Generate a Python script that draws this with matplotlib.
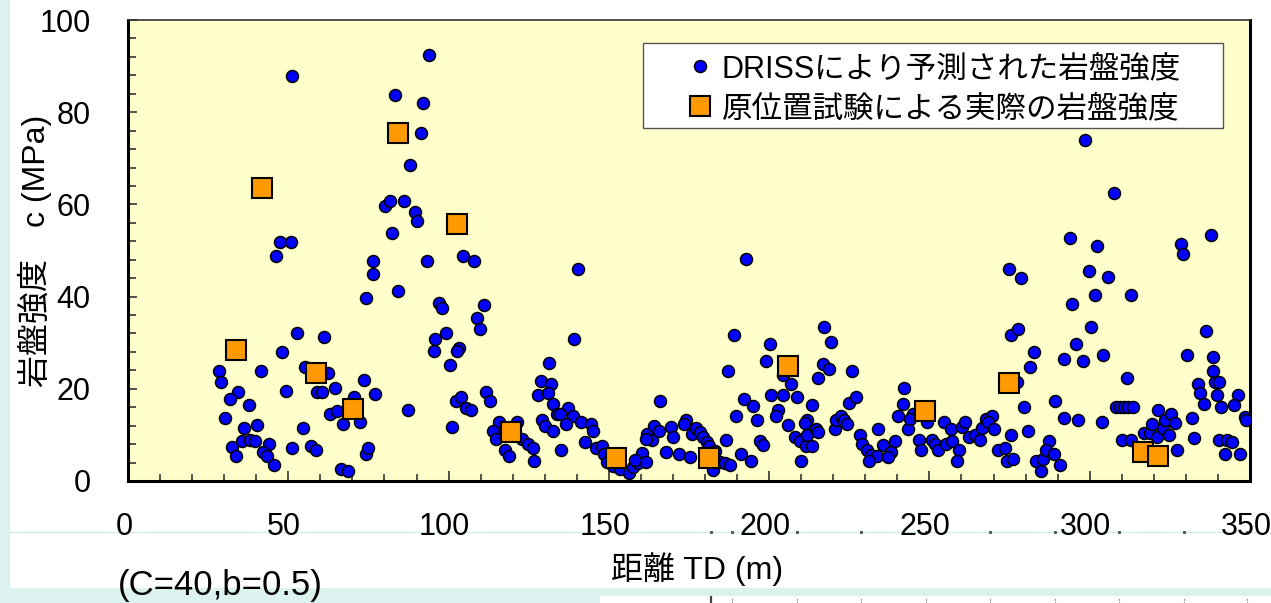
import numpy as np
import matplotlib.pyplot as plt
from matplotlib.patches import Rectangle
from matplotlib.lines import Line2D
from matplotlib.ticker import MultipleLocator
from matplotlib.transforms import ScaledTranslation

plt.rcParams['font.family'] = ['Liberation Sans', 'Noto Sans CJK JP']

# rock strength predicted by DRISS (distance TD [m], c [MPa])
td_pred = [51.3, 47.5, 50.8, 46.1, 52.6, 61.2, 48.0, 28.4, 29.1, 41.6,
           55.1, 62.4, 34.3, 31.7, 37.6, 49.4, 59.1, 60.6, 64.5, 73.6,
           77.0, 70.4, 87.4, 62.9, 65.2, 67.1, 72.4, 30.4, 36.3, 40.2,
           54.6, 32.3, 33.7, 35.6, 38.2, 39.6, 44.1, 42.0, 43.5, 45.5,
           51.3, 57.2, 58.7, 74.2, 74.9, 66.4, 68.5, 74.2, 84.1, 76.3,
           76.3, 94.0, 83.4, 91.9, 91.4, 88.1, 80.2, 81.7, 86.1, 89.4,
           90.0, 82.2, 93.3, 104.4, 107.8, 97.1, 97.8, 111.0, 109.0, 109.7,
           99.2, 95.9, 95.3, 103.2, 102.6, 100.5, 101.2, 102.3, 103.9, 105.4,
           107.1, 111.7, 113.0, 115.6, 113.8, 114.9, 117.7, 118.7, 121.4, 122.8,
           124.7, 126.2, 126.7, 140.5, 139.2, 131.4, 128.9, 132.0, 127.9, 131.0,
           132.7, 137.3, 138.7, 133.7, 134.7, 129.3, 130.0, 136.6, 132.6, 141.2,
           144.5, 145.1, 142.7, 135.2, 146.1, 147.8, 148.4, 149.3, 151.3, 153.4,
           156.2, 157.6, 159.1, 160.4, 161.5, 158.1, 166.0, 161.9, 163.5, 164.1,
           165.6, 161.7, 167.7, 169.5, 170.0, 171.8, 175.3, 174.0, 173.5, 175.9,
           177.3, 178.4, 179.4, 180.5, 181.3, 182.5, 184.6, 186.2, 187.7, 186.5,
           187.1, 189.1, 189.7, 191.1, 192.3, 195.0, 194.3, 196.2, 197.0, 198.2,
           198.9, 200.2, 200.7, 204.2, 202.9, 202.1, 206.0, 206.7, 208.6, 208.0,
           209.7, 211.4, 213.3, 210.0, 211.9, 211.1, 213.3, 211.8, 214.6, 215.3,
           217.2, 219.2, 215.2, 216.7, 218.6, 220.5, 221.0, 222.4, 223.3, 224.4,
           224.9, 225.8, 227.0, 192.9, 228.3, 229.1, 230.4, 231.9, 233.5, 231.1,
           234.1, 183.1, 235.6, 238.0, 239.4, 237.1, 242.1, 241.6, 240.1, 243.4,
           244.9, 243.9, 249.1, 246.7, 247.4, 250.7, 251.7, 252.7, 255.1, 257.1,
           259.2, 258.5, 254.6, 256.7, 260.2, 261.1, 262.3, 264.2, 265.7, 266.3,
           267.8, 269.4, 268.3, 270.2, 271.4, 273.5, 274.1, 276.2, 274.8, 278.7,
           275.4, 277.5, 282.7, 281.3, 279.5, 280.7, 275.5, 283.2, 284.8, 285.5,
           287.3, 286.5, 288.8, 290.6, 289.2, 291.9, 292.0, 298.5, 307.6, 293.8,
           302.2, 299.8, 305.7, 294.5, 301.8, 312.8, 300.4, 295.8, 297.8, 304.3,
           311.5, 296.5, 303.7, 308.2, 309.4, 310.6, 311.9, 313.6, 310.2, 312.9,
           316.9, 318.9, 319.4, 320.9, 321.4, 322.9, 323.5, 324.7, 325.3, 326.6,
           327.2, 331.9, 332.6, 328.5, 329.2, 337.8, 336.4, 330.5, 338.4, 338.4,
           339.0, 340.4, 333.7, 334.5, 335.8, 339.7, 346.3, 345.0, 341.1, 348.4,
           348.9, 340.4, 342.9, 344.4, 342.3, 346.9, 204.4, 277.4]
c_pred = [87.9, 51.9, 51.9, 48.7, 32.1, 31.2, 27.9, 23.8, 21.5, 23.8,
          24.7, 23.4, 19.2, 17.8, 16.4, 19.6, 19.3, 19.3, 20.1, 21.9,
          18.8, 18.3, 15.5, 14.6, 15.1, 12.3, 12.7, 13.7, 11.4, 12.2,
          11.4, 7.3, 5.4, 8.6, 9.0, 8.6, 8.1, 6.3, 5.4, 3.5,
          7.2, 7.7, 6.7, 5.8, 7.2, 2.5, 2.1, 39.6, 41.3, 47.8,
          45.0, 92.5, 83.7, 81.9, 75.4, 68.5, 59.7, 60.7, 60.7, 58.4,
          56.5, 53.8, 47.8, 48.7, 47.8, 38.6, 37.6, 38.1, 35.4, 33.0,
          32.1, 30.7, 28.3, 28.9, 28.3, 25.1, 11.8, 17.4, 18.2, 15.9,
          15.5, 19.2, 17.3, 12.8, 10.9, 9.1, 6.7, 5.4, 12.8, 9.2,
          8.1, 7.2, 4.3, 45.9, 30.7, 25.6, 21.6, 21.1, 18.7, 19.1,
          16.8, 15.9, 14.1, 14.6, 14.5, 13.2, 11.9, 12.3, 10.8, 12.7,
          12.3, 10.9, 8.5, 6.7, 7.2, 7.7, 5.9, 4.1, 3.2, 2.7,
          1.8, 3.0, 3.9, 6.1, 4.1, 4.5, 17.3, 10.3, 9.0, 11.9,
          10.9, 9.1, 6.3, 11.7, 9.6, 5.8, 5.2, 13.3, 12.3, 10.1,
          11.4, 10.6, 9.5, 8.5, 7.5, 2.3, 4.1, 3.8, 3.4, 9.0,
          23.8, 31.6, 14.0, 5.9, 17.8, 16.3, 4.4, 13.2, 8.6, 7.8,
          26.1, 29.8, 18.7, 18.7, 15.5, 14.0, 12.2, 21.0, 18.2, 9.5,
          8.6, 7.6, 7.6, 4.3, 13.2, 12.5, 16.4, 10.0, 11.2, 10.7,
          33.4, 30.2, 22.4, 25.3, 24.2, 11.3, 13.2, 14.0, 13.2, 12.4,
          16.9, 23.8, 18.2, 48.2, 9.9, 8.1, 6.7, 5.6, 5.4, 4.4,
          11.3, 6.5, 7.8, 6.2, 8.6, 5.2, 20.1, 16.8, 14.2, 11.3,
          14.6, 13.5, 12.8, 9.0, 6.7, 9.0, 8.1, 6.7, 8.1, 8.7,
          6.7, 4.3, 12.8, 11.3, 11.7, 12.8, 9.6, 9.9, 9.0, 11.6,
          13.5, 14.2, 12.8, 11.3, 6.7, 7.2, 4.3, 4.8, 46.0, 44.1,
          31.6, 33.0, 27.9, 24.7, 16.0, 10.8, 10.0, 4.4, 2.1, 4.8,
          8.6, 6.7, 5.9, 3.5, 17.3, 13.6, 26.5, 74.0, 62.5, 52.8,
          51.0, 45.5, 44.2, 38.5, 40.4, 40.4, 33.5, 29.8, 26.1, 27.4,
          22.4, 13.2, 12.7, 16.0, 16.0, 16.0, 16.0, 16.0, 9.0, 9.0,
          10.4, 10.4, 12.3, 9.6, 15.5, 11.4, 13.2, 10.0, 14.5, 12.6,
          6.7, 13.6, 9.4, 51.5, 49.2, 53.3, 32.5, 27.4, 27.0, 23.8,
          21.5, 21.5, 21.1, 19.1, 16.8, 18.7, 18.7, 16.4, 16.0, 13.8,
          13.2, 9.0, 9.0, 8.4, 5.8, 5.8, 22.9, 21.5]

# actual rock strength from in-situ tests
td_test = [33.6, 41.7, 58.6, 70.1, 84.1, 102.6, 119.4, 152.2, 181.2, 205.8,
           248.6, 274.8, 316.6, 321.3]
c_test = [28.4, 63.5, 23.4, 15.6, 75.5, 55.7, 10.6, 4.9, 4.9, 24.9,
          15.1, 21.2, 6.2, 5.4]

labels = ['DRISSにより予測された岩盤強度', '原位置試験による実際の岩盤強度']

W, H = 1271, 603
fig = plt.figure(figsize=(W / 100, H / 100), dpi=100)
fig.patch.set_facecolor('#dcf2ee')
# white slide area
fig.add_artist(Rectangle((10 / W, 15 / H), 1, 1, transform=fig.transFigure,
                         facecolor='white', edgecolor='none', zorder=0))
fig.add_artist(Rectangle((600 / W, 0), 1, 7 / H, transform=fig.transFigure,
                         facecolor='white', edgecolor='none', zorder=0))
fig.add_artist(Line2D([10 / W, 1], [1 - 532 / H] * 2, transform=fig.transFigure,
                      color='#d3eeea', lw=1, zorder=0))
marks = [711, 732, 797, 861, 926, 990, 1055, 1119, 1184, 1247]
for mx in marks:
    fig.add_artist(Line2D([mx / W], [1 - 532 / H], transform=fig.transFigure,
                          marker='s', ms=1.2, color='#555555', ls='none', zorder=0))
    fig.add_artist(Line2D([mx / W] * 2, [0, 6 / H], transform=fig.transFigure,
                          color='#444444', lw=1.6 if mx == 711 else 0.8,
                          ls='-' if mx == 711 else ':', zorder=0))

ax = fig.add_axes([128 / W, 122 / H, 1122 / W, 461 / H])
ax.set_facecolor('#ffffcc')

ax.plot(td_pred, c_pred, ls='none', marker='o', ms=8.6, mfc='#0000ff',
        mec='black', mew=1.1, zorder=3)
ax.plot(td_test, c_test, ls='none', marker='s', ms=14.2, mfc='#ff9900',
        mec='black', mew=1.5, zorder=4)

ax.set_xlim(0, 350)
ax.set_ylim(0, 100)
ax.xaxis.set_major_locator(MultipleLocator(50))
ax.xaxis.set_minor_locator(MultipleLocator(10))
ax.yaxis.set_major_locator(MultipleLocator(20))
ax.yaxis.set_minor_locator(MultipleLocator(4))
ax.tick_params(which='both', direction='in', width=1.2, colors='#333333',
               labelcolor='black', labelsize=22)
ax.tick_params(axis='x', which='major', length=7.5, pad=22)
ax.tick_params(axis='x', which='minor', length=5)
ax.tick_params(axis='y', which='major', length=6.5, pad=27)
ax.tick_params(axis='y', which='minor', length=6)
shift = ScaledTranslation(-4 / 100, 0, fig.dpi_scale_trans)
for lab in ax.get_xticklabels():
    lab.set_transform(lab.get_transform() + shift)

for side in ['left', 'bottom', 'right']:
    ax.spines[side].set_linewidth(2.2)
    ax.spines[side].set_color('black')
ax.spines['top'].set_linewidth(1.2)
ax.spines['top'].set_color('#333333')

ax.set_xlabel('距離 TD (m)', fontsize=23, va='top')
ax.xaxis.set_label_coords(0.507, -0.155)
ax.set_ylabel('岩盤強度　c (MPa)', fontsize=23)
ax.yaxis.set_label_coords(-0.068, 0.5)

# legend box
ax.add_patch(Rectangle((0.459, 0.766), 0.517, 0.184, transform=ax.transAxes,
                       facecolor='white', edgecolor='#555555', lw=1.0, zorder=5))
h1 = Line2D([], [], ls='none', marker='o', ms=8.6, mfc='#0000ff', mec='black', mew=1.1)
h2 = Line2D([], [], ls='none', marker='s', ms=14.2, mfc='#ff9900', mec='black', mew=1.5)
leg = ax.legend([h1, h2], labels, loc='upper left',
                bbox_to_anchor=((685 - 128) / 1122, (481 - 54) / 461),
                frameon=False, fontsize=22, borderpad=0, borderaxespad=0,
                handlelength=1.0, handletextpad=0.2, labelspacing=0.33)
leg.set_zorder(6)

fig.text(220 / W, 1 - 585 / H, '(C=40,b=0.5)', fontsize=25, ha='center', va='center')

fig.savefig('out.png', dpi=100, facecolor=fig.get_facecolor())
